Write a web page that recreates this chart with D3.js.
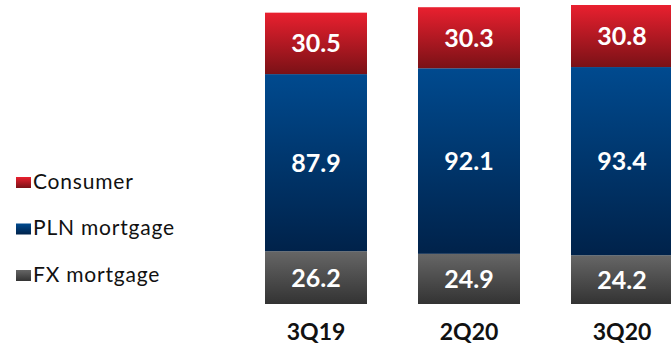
<!DOCTYPE html>
<html>
<head>
<meta charset="utf-8">
<script src="https://cdn.jsdelivr.net/npm/d3@7"></script>
<style>
  html, body { margin: 0; padding: 0; background: #fff; }
  svg { display: block; font-family: Lato, "Open Sans", sans-serif; }
</style>
</head>
<body>
<svg id="chart" width="671" height="351"></svg>
<script>
// Loan portfolio by quarter (stacked, bottom to top)
const categories = ["3Q19", "2Q20", "3Q20"];
const fxMortgage = [26.2, 24.9, 24.2];
const plnMortgage = [87.9, 92.1, 93.4];
const consumer = [30.5, 30.3, 30.8];
const seriesNames = ["FX mortgage", "PLN mortgage", "Consumer"];
const legendOrder = ["Consumer", "PLN mortgage", "FX mortgage"];

const seriesValues = {
  "FX mortgage": fxMortgage,
  "PLN mortgage": plnMortgage,
  "Consumer": consumer
};
const gradients = {
  "Consumer": ["#e9202f", "#7a1116"],
  "PLN mortgage": ["#004a8f", "#00224a"],
  "FX mortgage": ["#666666", "#333333"]
};

const svg = d3.select("#chart");
const defs = svg.append("defs");
const gid = name => "g-" + name.replace(/\s+/g, "-");
Object.entries(gradients).forEach(([name, [top, bottom]]) => {
  const g = defs.append("linearGradient")
    .attr("id", gid(name)).attr("x1", 0).attr("y1", 0).attr("x2", 0).attr("y2", 1);
  g.append("stop").attr("offset", "0%").attr("stop-color", top);
  g.append("stop").attr("offset", "100%").attr("stop-color", bottom);
});

const table = categories.map((c, i) => {
  const row = { cat: c };
  seriesNames.forEach(s => row[s] = seriesValues[s][i]);
  return row;
});
const stacked = d3.stack().keys(seriesNames)(table);

const x = d3.scaleBand().domain(categories).range([265, 673]).paddingInner(1 / 3).paddingOuter(0);
const y = d3.scaleLinear().domain([0, 148.4]).range([304, 5]);

stacked.forEach(layer => {
  const grp = svg.append("g");
  grp.selectAll("rect").data(layer).join("rect")
    .attr("x", d => x(d.data.cat))
    .attr("width", x.bandwidth())
    .attr("y", d => y(d[1]))
    .attr("height", d => y(d[0]) - y(d[1]))
    .attr("fill", `url(#${gid(layer.key)})`);
  grp.selectAll("text").data(layer).join("text")
    .attr("x", d => x(d.data.cat) + x.bandwidth() / 2)
    .attr("y", d => (y(d[0]) + y(d[1])) / 2)
    .attr("dy", "0.36em")
    .attr("text-anchor", "middle")
    .attr("fill", "#fff")
    .attr("font-size", 25)
    .attr("font-weight", 700)
    .text(d => (d[1] - d[0]).toFixed(1));
});

// Category axis
const xAxis = svg.append("g").attr("transform", "translate(0,340)")
  .call(d3.axisBottom(x).tickSize(0).tickPadding(0));
xAxis.select(".domain").remove();
xAxis.selectAll("text")
  .attr("dy", 0)
  .attr("fill", "#111")
  .attr("font-size", 23)
  .attr("font-weight", 700)
  .attr("font-family", "Lato, sans-serif");

// Legend
const legend = svg.append("g");
legendOrder.forEach((name, i) => {
  const cy = 182.5 + i * 46.5;
  legend.append("rect")
    .attr("x", 16).attr("y", cy - 5.5).attr("width", 15).attr("height", 11)
    .attr("fill", `url(#${gid(name)})`);
  legend.append("text")
    .attr("x", 33).attr("y", cy + 6)
    .attr("font-size", 21)
    .attr("letter-spacing", 0.8)
    .attr("fill", "#111")
    .text(name);
});
</script>
</body>
</html>
